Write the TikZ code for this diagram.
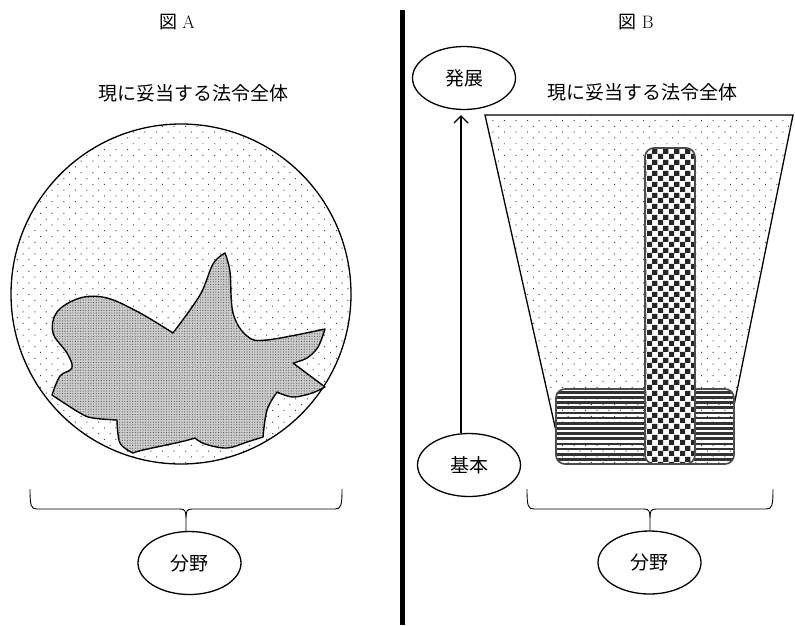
\documentclass[tikz,border=0pt]{standalone}
\usepackage{fontspec}
\newfontfamily\cjk{Noto Sans CJK JP}
\usetikzlibrary{shapes.geometric,patterns,patterns.meta,arrows.meta}
\pgfdeclarepatternformonly{mychecker}{\pgfqpoint{0pt}{0pt}}{\pgfqpoint{10.6pt}{10.6pt}}{\pgfqpoint{10.6pt}{10.6pt}}{%
  \pgfpathrectangle{\pgfqpoint{0pt}{0pt}}{\pgfqpoint{5.3pt}{5.3pt}}%
  \pgfpathrectangle{\pgfqpoint{5.3pt}{5.3pt}}{\pgfqpoint{5.3pt}{5.3pt}}%
  \pgfusepath{fill}}
\tikzset{
  bgdots/.style={pattern={Dots[distance=8.2pt,angle=45,radius=0.7pt]},pattern color=black!75},
  blobfill/.style={fill=gray!40,postaction={pattern={Dots[distance=2.6pt,radius=0.55pt]},pattern color=black!70}},
  oval/.style={ellipse,draw,line width=1.3pt,minimum width=103pt,minimum height=63pt,inner sep=0pt,font=\cjk\fontsize{19}{22}\selectfont},
  jlabel/.style={font=\cjk\fontsize{19}{22}\selectfont,inner sep=0pt},
  figlabel/.style={font=\fontsize{18}{21}\selectfont,inner sep=0pt},
  bracepath/.style={line width=0.9pt},
  stripe/.style={fill=black!80},
}
\begin{document}
\begin{tikzpicture}[x=1pt,y=-1pt]
\useasboundingbox (0,0) rectangle (795,625);
% titles
\node[figlabel] (figA) at (177,22) {{\cjk 図} A};
\node[figlabel] (figB) at (636,22) {{\cjk 図} B};
\node[jlabel] (titleA) at (193,93) {現に妥当する法令全体};
\node[jlabel] (titleB) at (642,92) {現に妥当する法令全体};
% separator
\draw[line width=5pt] (402,10) -- (402,625);
% circle A
\draw[line width=1.3pt,bgdots] (181,294) circle[radius=170pt];
% blob
\draw[line width=1.4pt,blobfill,line join=round]
  plot[smooth,tension=0.6] coordinates {(52,395) (60,376) (72,368) (67,353) (53,333) (57,312) (80,298) (107,298) (140,313) (173,333)}
  -- plot[smooth,tension=0.6] coordinates {(173,333) (200,295) (213,264) (225,253)}
  -- plot[smooth,tension=0.6] coordinates {(225,253) (230,272) (233,313) (247,336) (267,340) (325,329)}
  -- plot[smooth,tension=0.6] coordinates {(325,329) (318,347) (307,358) (293,363)}
  -- (325,387)
  -- plot[smooth,tension=0.6] coordinates {(325,387) (312,393) (293,397) (277,392)}
  -- plot[smooth,tension=0.6] coordinates {(277,392) (267,410) (263,437)}
  -- plot[smooth,tension=0.6] coordinates {(263,437) (247,442) (227,448) (205,444) (195,438)}
  -- plot[smooth,tension=0.6] coordinates {(195,438) (180,442) (143,450) (133,453)}
  -- plot[smooth,tension=0.6] coordinates {(133,453) (120,443) (117,420)}
  -- plot[smooth,tension=0.6] coordinates {(117,420) (93,418) (80,413) (52,395)}
  -- cycle;
% trapezoid B
\draw[line width=1.3pt,bgdots,line join=miter] (485,115) -- (793,115) -- (727,440) -- (558,440) -- cycle;
% striped box
\path[fill=white,postaction={bgdots}][rounded corners=9pt] (556,389) rectangle (734,464);
\begin{scope}
  \clip[rounded corners=9pt] (556,389) rectangle (734,464);
  \foreach \k in {0,...,14} {
    \fill[stripe] (556,391+5.15*\k) rectangle (734,393.7+5.15*\k);
  }
\end{scope}
\draw[line width=1.7pt,black!70,rounded corners=9pt] (556,389) rectangle (734,464);
% checker bar
\path[fill=white,postaction={pattern=mychecker,pattern color=black!85}][rounded corners=9pt] (645,148) rectangle (695,464);
\draw[line width=1.7pt,black!70,rounded corners=9pt] (645,148) rectangle (695,464);
% ovals
\node[oval] (hatten) at (464,78) {発展};
\node[oval] (kihon) at (469,465) {基本};
\node[oval] (bunyaA) at (189.5,563) {分野};
\node[oval] (bunyaB) at (649.5,562.5) {分野};
\coordinate (ax) at (461,0);
\draw[line width=1.2pt,-{Straight Barb[length=7pt,width=14pt,line width=1.2pt]},shorten >=5pt] (kihon.north -| ax) -- (hatten.south -| ax);
% braces
\draw[bracepath] (30,489) .. controls (30,506) and (31,509) .. (37,509) -- (180,509)
  .. controls (185,509) and (186,511) .. (186,518) -- (bunyaA.north -| 186,0);
\draw[bracepath] (342,489) .. controls (342,506) and (341,509) .. (335,509) -- (192,509)
  .. controls (187,509) and (186,511) .. (186,518);
\draw[bracepath] (527,489) .. controls (527,506) and (528,509) .. (534,509) -- (644,509)
  .. controls (649,509) and (650,511) .. (650,518) -- (bunyaB.north -| 650,0);
\draw[bracepath] (773,489) .. controls (773,506) and (772,509) .. (766,509) -- (656,509)
  .. controls (651,509) and (650,511) .. (650,518);
\end{tikzpicture}
\end{document}
